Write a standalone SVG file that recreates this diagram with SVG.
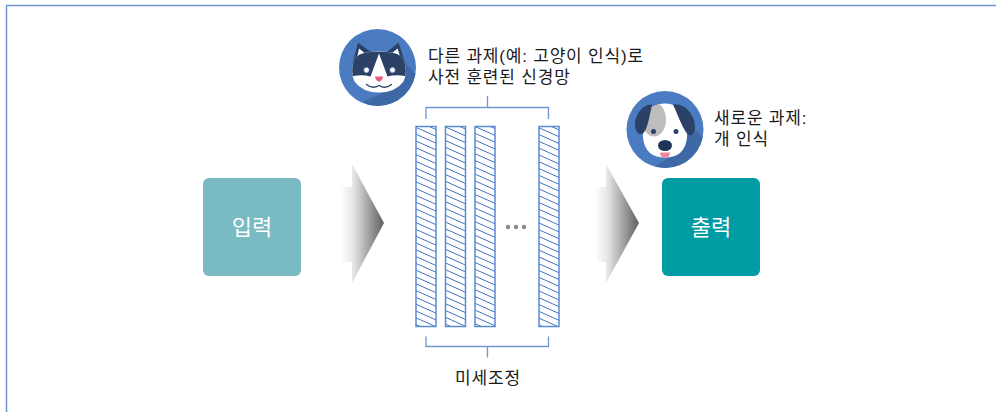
<svg xmlns="http://www.w3.org/2000/svg" width="996" height="412" viewBox="0 0 996 412">
  <style>
    .txt { font-family: "Liberation Sans", "Noto Sans CJK KR", sans-serif; fill: #1a1a1a; font-size: 17px; letter-spacing: 0.8px; }
    .box-txt { font-family: "Noto Sans CJK KR", "Noto Sans", sans-serif; fill: #ffffff; font-size: 22px; text-anchor: middle; }
    .bar { fill: url(#hatch); stroke: #5b8bd4; stroke-width: 1.5; }
    .bracket { fill: none; stroke: #6f96d4; stroke-width: 1.3; }
    .navy { fill: #2b4266; }
  </style>
  <defs>
    <!-- diagonal hatching for the network layers -->
    <pattern id="hatch" patternUnits="userSpaceOnUse" width="10" height="6.8" patternTransform="skewY(24)">
      <rect width="10" height="6.8" fill="#ffffff"/>
      <line x1="0" y1="3.4" x2="10" y2="3.4" stroke="#3f70c0" stroke-width="1"/>
    </pattern>
    <linearGradient id="arrowGrad" x1="0" y1="0" x2="1" y2="0">
      <stop offset="0" stop-color="#ffffff"/>
      <stop offset="0.3" stop-color="#e4e4e4"/>
      <stop offset="1" stop-color="#5e5e5e"/>
    </linearGradient>
    <clipPath id="iconClip"><circle r="38.5"/></clipPath>
    <clipPath id="catHeadClip">
      <path d="M-24,-6 Q-22,-16 1.5,-16 Q25,-16 27,-6 Q30,6 26,14 Q18,25 1.5,25 Q-15,25 -23,14 Q-27,6 -24,-6 Z"/>
    </clipPath>
    <clipPath id="dogHeadClip">
      <path d="M-14,-22 Q0,-30 14,-22 Q24,-10 22,8 Q20,28 0,28 Q-20,28 -22,8 Q-24,-10 -14,-22 Z"/>
    </clipPath>
  </defs>

  <!-- outer frame -->
  <path d="M6.5,412 V5.5 H996" fill="none" stroke="#6f96d4" stroke-width="1.5"/>

  <!-- input node -->
  <g id="input">
    <rect x="203" y="178" width="98" height="98" rx="6" fill="#7abac3"/>
    <text class="box-txt" x="252" y="235">입력</text>
  </g>

  <!-- output node -->
  <g id="output">
    <rect x="662" y="178" width="98" height="98" rx="6" fill="#009ba3"/>
    <text class="box-txt" x="711" y="235">출력</text>
  </g>

  <!-- pretrained network layers -->
  <g id="network">
    <rect class="bar" x="416" y="126.5" width="20" height="200"/>
    <rect class="bar" x="445.5" y="126.5" width="20" height="200"/>
    <rect class="bar" x="475" y="126.5" width="20" height="200"/>
    <rect class="bar" x="539" y="126.5" width="20" height="200"/>
    <circle cx="508" cy="227" r="2.2" fill="#8a8a8a"/>
    <circle cx="516" cy="227" r="2.2" fill="#8a8a8a"/>
    <circle cx="524" cy="227" r="2.2" fill="#8a8a8a"/>
  </g>

  <!-- connectors: flow arrows and brackets -->
  <g id="connectors">
    <polygon points="341,187 352,187 352,164 384,223 352,283 352,262 341,262" fill="url(#arrowGrad)"/>
    <polygon points="595,187 606,187 606,164 639,223 606,283 606,262 595,262" fill="url(#arrowGrad)"/>
    <path class="bracket" d="M426,119 V107.5 H548.5 V119 M487.5,107.5 V96"/>
    <path class="bracket" d="M426,336.5 V346.5 H548.5 V336.5 M487.5,346.5 V357.5"/>
  </g>

  <!-- cat icon with caption -->
  <g id="pretrained-label">
    <g transform="translate(377.5,67.5)">
      <circle r="38.5" fill="#4b7cc2"/>
      <g clip-path="url(#iconClip)">
        <polygon points="26,-6 80,48 40,88 -14,34 18,20" fill="#3f68a6"/>
      </g>
      <!-- ears -->
      <polygon class="navy" points="-25,-4 -19.5,-25 -6,-15"/>
      <polygon points="-21,-7 -18.5,-19 -11,-13" fill="#ffffff"/>
      <polygon class="navy" points="28,-4 21,-25 9,-15"/>
      <polygon points="24,-7 20,-19 13,-13" fill="#ffffff"/>
      <!-- head and mask -->
      <path d="M-24,-6 Q-22,-16 1.5,-16 Q25,-16 27,-6 Q30,6 26,14 Q18,25 1.5,25 Q-15,25 -23,14 Q-27,6 -24,-6 Z" fill="#ffffff"/>
      <g clip-path="url(#catHeadClip)">
        <path class="navy" d="M-30,-20 H34 V10 Q20,6 10,9 L1.5,-14 L-7,9 Q-17,6 -30,10 Z"/>
      </g>
      <circle cx="-11" cy="2.5" r="2.6" fill="#ffffff" stroke="#8aa0c0" stroke-width="0.8"/>
      <circle cx="15" cy="2.5" r="2.6" fill="#ffffff" stroke="#8aa0c0" stroke-width="0.8"/>
      <path d="M-2.5,9 H5.5 Q5,13 1.5,14.5 Q-2,13 -2.5,9 Z" fill="#e4607e"/>
      <path d="M-11,17 Q-5,22 1.5,18 Q8,22 14,17" fill="none" stroke="#2b4266" stroke-width="1.3" stroke-linecap="round"/>
    </g>
    <text class="txt" x="428" y="62">다른 과제(예: 고양이 인식)로</text>
    <text class="txt" x="428" y="83">사전 훈련된 신경망</text>
  </g>

  <!-- dog icon with caption -->
  <g id="new-task-label">
    <g transform="translate(665,129.5)">
      <circle r="38.5" fill="#4b7cc2"/>
      <g clip-path="url(#iconClip)">
        <polygon points="22,-8 80,50 40,90 -12,38 14,22" fill="#3f68a6"/>
      </g>
      <path d="M-14,-22 Q0,-30 14,-22 Q24,-10 22,8 Q20,28 0,28 Q-20,28 -22,8 Q-24,-10 -14,-22 Z" fill="#ffffff"/>
      <g clip-path="url(#dogHeadClip)">
        <ellipse cx="-11" cy="-10" rx="12" ry="17" fill="#bdbdbd"/>
      </g>
      <path class="navy" d="M-13,-25 C-22,-26 -31,-14 -30,-4 C-29,4 -25,6 -22,4 C-18,0 -16,-10 -13,-25 Z"/>
      <path class="navy" d="M8,-25 C20,-27 30,-14 30,-3 C30,5 26,7 23,5 C18,0 14,-12 8,-25 Z"/>
      <circle cx="-11.5" cy="2" r="2.5" fill="#2b4266"/>
      <circle cx="11" cy="2" r="2.5" fill="#2b4266"/>
      <path d="M-5,23 H5 Q5,28 0,28.5 Q-5,28 -5,23 Z" fill="#f0899e"/>
      <ellipse cx="0" cy="16" rx="7" ry="5.5" fill="#1f3558"/>
    </g>
    <text class="txt" x="714" y="124">새로운 과제:</text>
    <text class="txt" x="714" y="145">개 인식</text>
  </g>

  <!-- fine-tuning label -->
  <g id="finetune-label">
    <text class="txt" x="488" y="384" text-anchor="middle" font-size="16.5">미세조정</text>
  </g>
</svg>
